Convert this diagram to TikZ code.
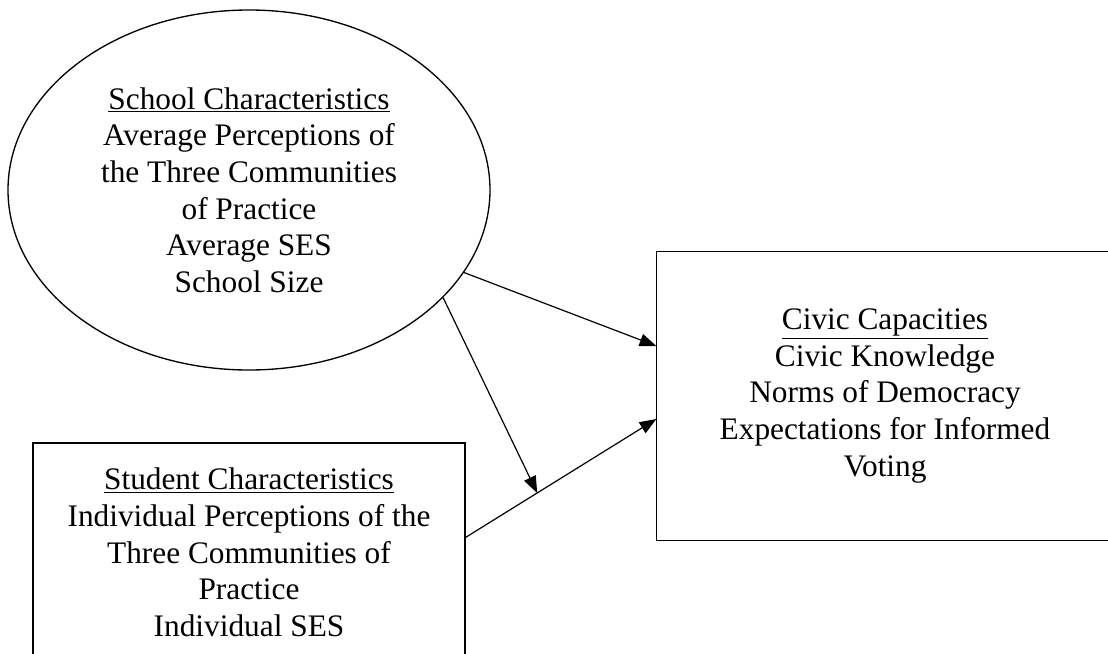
\documentclass[tikz,border=0pt]{standalone}
\usepackage{fontspec}
\setmainfont{Liberation Serif}
\usetikzlibrary{positioning,shapes.geometric,arrows.meta}

\tikzset{
  box/.style={draw, line width=1pt, inner sep=0pt, align=center,
    font=\fontsize{23.5}{27.5}\selectfont},
  link/.style={line width=0.9pt, -{Triangle[length=12.5pt,width=9.5pt]}}
}

\begin{document}
\begin{tikzpicture}[x=0.75pt, y=-0.75pt]
      \useasboundingbox (0,0) rectangle (1108,654);
      \node[box, ellipse, minimum width=361.5pt, minimum height=270pt] (School) at (249,190)
        {\underline{School Characteristics}\\Average Perceptions of\\the Three Communities\\of Practice\\Average SES\\School Size};
      \node[box, on grid, below=271.9pt of School, minimum width=324pt, minimum height=164.25pt] (Student)
        {\underline{Student Characteristics}\\Individual Perceptions of the\\Three Communities of\\Practice\\Individual SES};
      \node[box, draw=none, on grid, below right=154.5pt and 477pt of School, minimum width=342pt, minimum height=216pt] (Civic)
        {\underline{Civic Capacities}\\Civic Knowledge\\Norms of Democracy\\Expectations for Informed\\Voting};
      % frame runs off the right edge of the page
      \draw[line width=1pt] ([xshift=30pt]Civic.north east) -- (Civic.north west) -- (Civic.south west) -- ([xshift=30pt]Civic.south east);
      \draw[link] ([yshift=-71.25pt]Student.north east) -- coordinate[pos=0.375] (Mod) ([yshift=-17.25pt]Civic.west);
      \draw[link] (School.-21) -- ([yshift=37.5pt]Civic.west);
      \draw[link] (School.-29) -- (Mod);
    \end{tikzpicture}
\end{document}
